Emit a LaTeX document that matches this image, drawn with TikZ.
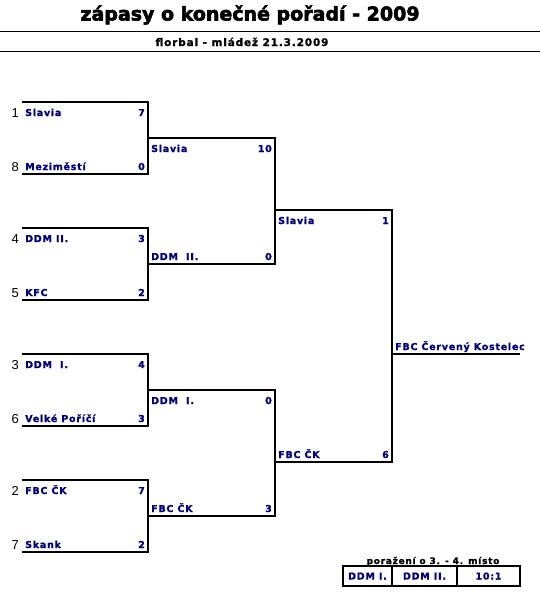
\documentclass[tikz,border=0pt]{standalone}
\usepackage{fontspec}
\setmainfont{DejaVu Sans}
\newfontfamily\teamfont{DejaVu Sans}[LetterSpace=8, FakeBold=1.2]
\newfontfamily\titlefont{DejaVu Sans}[FakeBold=3]
\newfontfamily\seedfont{Liberation Sans}
\usetikzlibrary{positioning}
\definecolor{navy}{RGB}{0,0,128}

\begin{document}
\begin{tikzpicture}[
  x=1pt, y=-1pt,
  bracket/.style = {line width=1.2pt},
  rule/.style = {line width=1pt},
  title/.style = {anchor=base, inner sep=0pt, font=\titlefont\bfseries\fontsize{19}{22}\selectfont},
  subtitle/.style = {anchor=base, inner sep=0pt, font=\teamfont\bfseries\fontsize{10.5}{12}\selectfont},
  team/.style = {anchor=base west, inner sep=0pt, text=navy, font=\teamfont\bfseries\fontsize{9.5}{11}\selectfont},
  score/.style = {team, anchor=base east},
  seed/.style = {anchor=base east, inner sep=0pt, font=\seedfont\fontsize{13}{15}\selectfont},
  cell/.style = {team, anchor=base},
  header/.style = {anchor=base, inner sep=0pt, font=\teamfont\bfseries\fontsize{9}{11}\selectfont}
  ]
  \useasboundingbox (0,0) rectangle (540,600);
  % heading
  \node[title] (head) at (250,20.5) {zápasy o konečné pořadí - 2009};
  \node[subtitle] (sub) at (242,46) {florbal - mládež 21.3.2009};
  \draw[rule] (0,31) -- (540,31);
  \draw[rule] (0,51) -- (540,51);
  % bracket corners
  \coordinate (r1a) at (22,102);  \coordinate (r1b) at (148,174);
  \coordinate (r1c) at (22,228);  \coordinate (r1d) at (148,300);
  \coordinate (r1e) at (22,354);  \coordinate (r1f) at (148,426);
  \coordinate (r1g) at (22,480);  \coordinate (r1h) at (148,552);
  \coordinate (r2a) at (148,138); \coordinate (r2b) at (275,264);
  \coordinate (r2c) at (148,390); \coordinate (r2d) at (275,516);
  \coordinate (r3a) at (275,210); \coordinate (r3b) at (392,462);
  \coordinate (win) at (392,354); \coordinate (winend) at (520,354);
  \draw[bracket] (r1a) -| (r1b) -- (r1a |- r1b);
  \draw[bracket] (r1c) -| (r1d) -- (r1c |- r1d);
  \draw[bracket] (r1e) -| (r1f) -- (r1e |- r1f);
  \draw[bracket] (r1g) -| (r1h) -- (r1g |- r1h);
  \draw[bracket] (r2a) -| (r2b) -- (r2a |- r2b);
  \draw[bracket] (r2c) -| (r2d) -- (r2c |- r2d);
  \draw[bracket] (r3a) -| (r3b) -- (r3a |- r3b);
  \draw[bracket] (win) -- (winend);
  % first round
  \node[seed] (s1) at (19,117) {1};
  \node[team] (t1) at (25,116) {Slavia};
  \node[score] (g1) at (145,116) {7};
  \node[seed] (s8) at (19,171) {8};
  \node[team] (t8) at (25,170) {Meziměstí};
  \node[score] (g8) at (145,170) {0};
  \node[seed] (s4) at (19,243) {4};
  \node[team] (t4) at (25,242) {DDM II.};
  \node[score] (g4) at (145,242) {3};
  \node[seed] (s5) at (19,297) {5};
  \node[team] (t5) at (25,296) {KFC};
  \node[score] (g5) at (145,296) {2};
  \node[seed] (s3) at (19,369) {3};
  \node[team] (t3) at (25,368) {DDM~~I.};
  \node[score] (g3) at (145,368) {4};
  \node[seed] (s6) at (19,423) {6};
  \node[team] (t6) at (25,422) {Velké Poříčí};
  \node[score] (g6) at (145,422) {3};
  \node[seed] (s2) at (19,495) {2};
  \node[team] (t2) at (25,494) {FBC ČK};
  \node[score] (g2) at (145,494) {7};
  \node[seed] (s7) at (19,549) {7};
  \node[team] (t7) at (25,548) {Skank};
  \node[score] (g7) at (145,548) {2};
  % semifinals
  \node[team] (u1) at (151,152) {Slavia};
  \node[score] (h1) at (272,152) {10};
  \node[team] (u2) at (151,260) {DDM~~II.};
  \node[score] (h2) at (272,260) {0};
  \node[team] (u3) at (151,404) {DDM~~I.};
  \node[score] (h3) at (272,404) {0};
  \node[team] (u4) at (151,512) {FBC ČK};
  \node[score] (h4) at (272,512) {3};
  % final
  \node[team] (v1) at (278,224) {Slavia};
  \node[score] (k1) at (389,224) {1};
  \node[team] (v2) at (278,458) {FBC ČK};
  \node[score] (k2) at (389,458) {6};
  \node[team] (champ) at (395,350) {FBC Červený Kostelec};
  % third place
  \node[header] (lost) at (433,564) {poražení o 3. - 4. místo};
  \draw[bracket] (343,566) rectangle (520,586);
  \draw[bracket] (392,566) -- (392,586);
  \draw[bracket] (457,566) -- (457,586);
  \node[cell] (c1) at (367.5,579.5) {DDM I.};
  \node[cell] (c2) at (424.5,579.5) {DDM II.};
  \node[cell] (c3) at (488.5,579.5) {10:1};
\end{tikzpicture}
\end{document}
